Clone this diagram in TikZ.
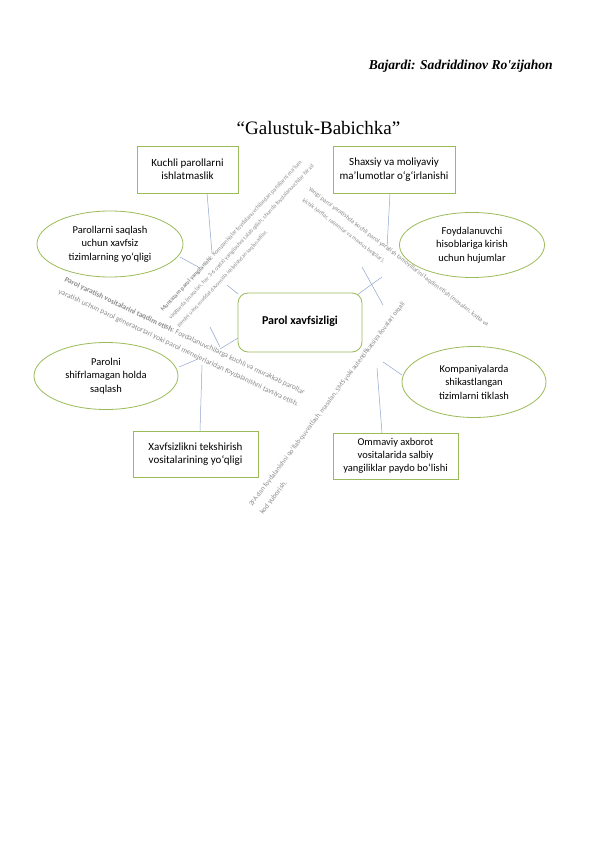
\documentclass[tikz,border=0pt]{standalone}
\usepackage{fontspec}
\setmainfont{Carlito}
\newfontfamily\timesfont{Liberation Serif}
\usepackage{graphicx}
\usetikzlibrary{shapes.geometric}
\definecolor{boxgreen}{RGB}{155,187,89}
\definecolor{linkblue}{RGB}{143,165,205}
\definecolor{notegray}{RGB}{140,140,140}
\newcommand\fitto[2]{\resizebox{#1pt}{!}{#2}}
\begin{document}
\begin{tikzpicture}[x=1pt,y=-1pt,
  box/.style={draw=boxgreen, line width=0.8pt, fill=white, align=center,
    font=\fontsize{11}{13.4}\selectfont, inner sep=0pt},
  oval/.style={ellipse, draw=boxgreen, line width=0.8pt, fill=white, align=center,
    font=\fontsize{10.5}{13.5}\selectfont, inner sep=0pt},
  core/.style={draw=boxgreen, line width=0.8pt, fill=white, rounded corners=10pt,
    align=center, font=\fontsize{12}{14}\selectfont\bfseries, inner sep=0pt},
  link/.style={draw=linkblue, line width=0.5pt},
  note/.style={text=notegray, font=\fontsize{5}{6}\selectfont, inner sep=0pt, anchor=base west}]
\useasboundingbox[fill=white] (0,0) rectangle (596,842);

% header and title
\node[font=\timesfont\fontsize{13.6}{15}\selectfont\bfseries\itshape, anchor=base east, inner sep=0pt]
  (author) at (553,70) {Bajardi: Sadriddinov Ro\textquotesingle zijahon};
\node[font=\timesfont\fontsize{19}{21}\selectfont, anchor=base, inner sep=0pt]
  (title) at (318.5,135) {“Galustuk-Babichka”};

% connector coordinates
\coordinate (c1a) at (207,193); \coordinate (c1b) at (212,253);
\coordinate (c2a) at (180,257); \coordinate (c2b) at (200,268);
\coordinate (c3a) at (227,285); \coordinate (c3b) at (238,294);
\coordinate (c4a) at (390,193); \coordinate (c4b) at (387,248);
\coordinate (c5a) at (362,267); \coordinate (c5b) at (383,305);
\coordinate (c6a) at (382,277); \coordinate (c6b) at (357,295);
\coordinate (c7a) at (179,367); \coordinate (c7b) at (198,359);
\coordinate (c8a) at (210,327); \coordinate (c8b) at (220,347);
\coordinate (c9a) at (220,349); \coordinate (c9b) at (238,338);
\coordinate (c10a) at (202,365); \coordinate (c10b) at (200,431);
\coordinate (c11a) at (377,368); \coordinate (c11b) at (382,433);
\coordinate (c12a) at (383,362); \coordinate (c12b) at (402,375);

\foreach \p in {1,...,12} {\draw[link] (c\p a) -- (c\p b);}

% rotated notes
\node[note, rotate=47] (na1) at (163,312) {\fitto{204}{\textbf{Muntazam parol yangilanishi:} Kompaniyalar foydalanuvchilardan parollarni ma’lum}};
\node[note, rotate=47] (na2) at (171,320) {\fitto{210}{vaqtlarda (masalan, har 3-6 oyda) yangilashni talab qilish, shunda foydalanuvchilar bir xil}};
\node[note, rotate=47] (na3) at (179,328) {\fitto{130}{parolni uzoq muddat davomida ishlatishdan saqlanadilar.}};

\node[note, rotate=-37.4] (nb1) at (308,190) {\fitto{225}{Yangi parol yaratishda kuchli parol yaratish tamoyillarini taqdim etish (masalan, katta va}};
\node[note, rotate=-37.4] (nb2) at (302,201) {\fitto{102}{kichik harflar, raqamlar va maxsus belgilar).}};

\node[note, rotate=-25.4] (nc1) at (64,281) {\fitto{265}{\textbf{Parol yaratish vositalarini taqdim etish:} Foydalanuvchilarga kuchli va murakkab parollar}};
\node[note, rotate=-25.4] (nc2) at (58,293) {\fitto{265}{yaratish uchun parol generatorlari yoki parol menejerlaridan foydalanishni tavsiya etish.}};

\node[note, rotate=53] (nd1) at (252,507) {\fitto{254}{2FA dan foydalanishni qo‘llab-quvvatlash, masalan, SMS yoki autentifikatsiya ilovalari orqali}};
\node[note, rotate=53] (nd2) at (263,515) {\fitto{40}{kod yuborish.}};

% boxes
\node[box, minimum width=101pt, minimum height=47pt] (b1) at (187.5,169.5) {Kuchli parollarni\\ishlatmaslik};
\node[box, minimum width=122pt, minimum height=47pt] (b2) at (394,169.5) {Shaxsiy va moliyaviy\\ma’lumotlar o‘g‘irlanishi};
\node[box, minimum width=125pt, minimum height=46pt] (b3) at (195.5,454) {Xavfsizlikni tekshirish\\vositalarining yo‘qligi};
\node[box, minimum width=125pt, minimum height=46pt, font=\fontsize{10.5}{13}\selectfont] (b4) at (395.5,456) {Ommaviy axborot\\vositalarida salbiy\\yangiliklar paydo bo‘lishi};

% ellipses
\node[oval, minimum width=146pt, minimum height=66pt] (e1) at (110,244) {Parollarni saqlash\\uchun xavfsiz\\tizimlarning yo‘qligi};
\node[oval, minimum width=145pt, minimum height=65pt] (e2) at (472,245) {Foydalanuvchi\\hisoblariga kirish\\uchun hujumlar};
\node[oval, minimum width=144pt, minimum height=67pt] (e3) at (106,376) {Parolni\\shifrlamagan holda\\saqlash};
\node[oval, minimum width=144pt, minimum height=71pt] (e4) at (474,382) {Kompaniyalarda\\shikastlangan\\tizimlarni tiklash};

% core
\node[core, minimum width=124pt, minimum height=59pt] (core) at (300,322.5) {\raisebox{4pt}{Parol xavfsizligi}};
\end{tikzpicture}
\end{document}
